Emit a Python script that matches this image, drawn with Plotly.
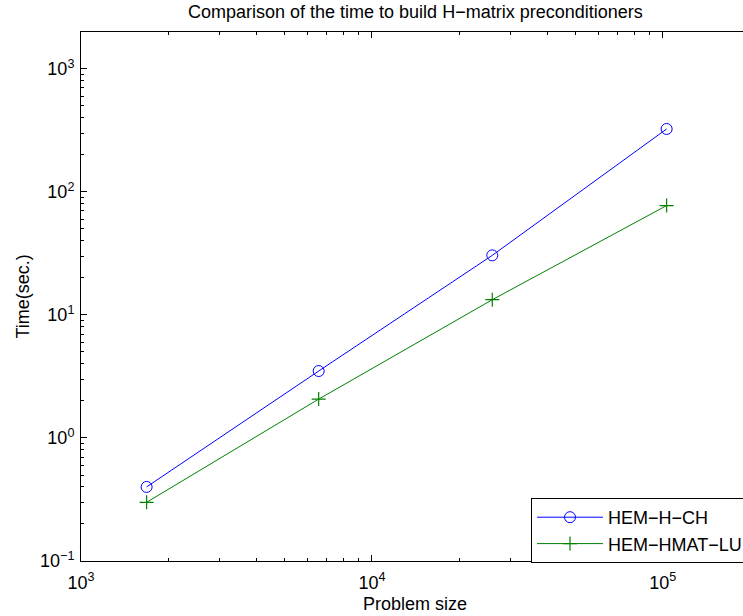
import plotly.graph_objects as go

# Problem sizes (unknowns) and build times in seconds
problem_size = [1681, 6561, 25921, 103041]
time_h_ch = [0.40, 3.5, 30.5, 325]
time_hmat_lu = [0.30, 2.07, 13.3, 77.5]

x_tick_vals = [1e3, 1e4, 1e5]
x_tick_text = ["10<sup>3</sup>", "10<sup>4</sup>", "10<sup>5</sup>"]
y_tick_vals = [1e-1, 1e0, 1e1, 1e2, 1e3]
y_tick_text = ["10<sup>−1</sup>", "10<sup>0</sup>", "10<sup>1</sup>", "10<sup>2</sup>", "10<sup>3</sup>"]

FONT = "Liberation Sans, Arial, Helvetica, sans-serif"
FS = 18

# axes box in pixels (left, right, top, bottom) and centre of the full axes
L, R, T, B = 81, 743, 32, 561
AXES_CENTER_X = 415

fig = go.Figure()
fig.add_trace(go.Scatter(
    x=problem_size, y=time_h_ch, name="HEM−H−CH", mode="lines+markers",
    line=dict(color="rgb(0,0,255)", width=1),
    marker=dict(symbol="circle-open", size=11, color="rgb(0,0,255)", line=dict(width=1)),
))
fig.add_trace(go.Scatter(
    x=problem_size, y=time_hmat_lu, name="HEM−HMAT−LU", mode="lines+markers",
    line=dict(color="rgb(0,128,0)", width=1),
    marker=dict(symbol="cross-thin", size=10, color="rgb(0,128,0)", line=dict(width=1.2, color="rgb(0,128,0)")),
))

axis_common = dict(
    type="log", showgrid=False, zeroline=False,
    showline=True, linecolor="black", linewidth=1,
    ticks="inside", ticklen=6, tickcolor="black", tickwidth=1,
    tickfont=dict(family=FONT, size=FS, color="black"),
    minor=dict(ticks="inside", ticklen=3, tickcolor="black", dtick="D1", showgrid=False),
)

fig.update_xaxes(
    **axis_common, range=[3, 5.2755], tickvals=x_tick_vals, ticktext=x_tick_text,
    mirror="ticks", ticklabelstandoff=5,
)
fig.update_yaxes(
    **axis_common, range=[-1, 3.3], tickvals=y_tick_vals, ticktext=y_tick_text,
    mirror=False, ticklabelstandoff=2,
)

cx = (AXES_CENTER_X - L) / (R - L)

fig.update_layout(
    width=743, height=616,
    margin=dict(l=L, r=743 - R, t=T, b=616 - B, autoexpand=False),
    paper_bgcolor="white", plot_bgcolor="white",
    font=dict(family=FONT, size=FS, color="black"),
    showlegend=True,
    legend=dict(
        x=(531 - L) / (R - L), y=(B - 498) / (B - T), xanchor="left", yanchor="top",
        bgcolor="white", bordercolor="black", borderwidth=1,
        font=dict(family=FONT, size=FS, color="black"),
        itemwidth=66, tracegroupgap=0,
    ),
    annotations=[
        dict(text="Comparison of the time to build H−matrix preconditioners",
             xref="paper", yref="paper", x=cx, y=1, yshift=20,
             xanchor="center", yanchor="middle", showarrow=False,
             font=dict(family=FONT, size=FS)),
        dict(text="Problem size", xref="paper", yref="paper",
             x=cx, y=0, yshift=-43,
             xanchor="center", yanchor="middle", showarrow=False,
             font=dict(family=FONT, size=FS)),
        dict(text="Time(sec.)", xref="paper", yref="paper",
             x=0, xshift=-59, y=0.5, textangle=-90,
             xanchor="center", yanchor="middle", showarrow=False,
             font=dict(family=FONT, size=FS)),
    ],
)

fig.write_html("out.html")
